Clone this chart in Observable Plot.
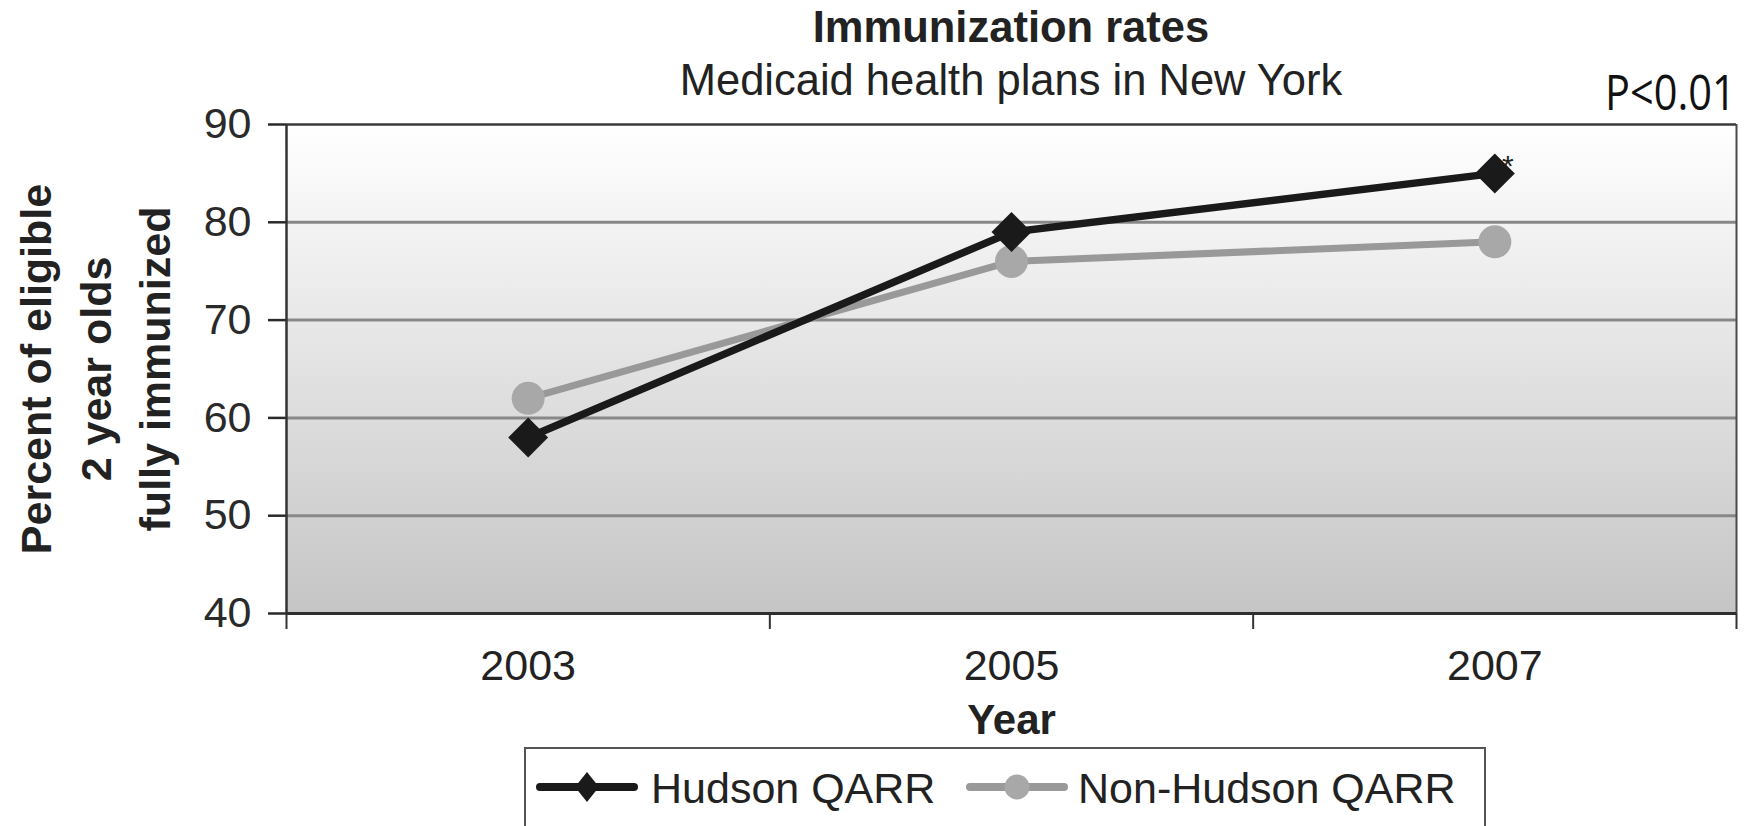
<!DOCTYPE html>
<html>
<head>
<meta charset="utf-8">
<script src="https://cdn.jsdelivr.net/npm/d3@7"></script>
<script src="https://cdn.jsdelivr.net/npm/@observablehq/plot@0.6"></script>
<style>
  html, body { margin: 0; padding: 0; background: #fff; }
  #page { position: relative; width: 1748px; height: 826px; overflow: hidden;
          font-family: "Liberation Sans", Arial, Helvetica, sans-serif; color: #222; }
  .abs { position: absolute; white-space: nowrap; }
  #title { left: 511px; width: 1000px; top: 6px; text-align: center; font-size: 43.5px; line-height: 43px; font-weight: bold; }
  #subtitle { left: 511px; width: 1000px; top: 59px; text-align: center; font-size: 43.5px; line-height: 43px; }
  #pval { left: 1605px; top: 66px; font-family: "Open Sans", sans-serif; font-size: 50px; line-height: 50px;
          transform: scaleX(0.83); transform-origin: 0 0; color: #111; }
  #chart { left: 0; top: 100px; }
  #legend { left: 524px; top: 747px; width: 962px; height: 100px; border: 2px solid #555; box-sizing: border-box; }
  .lg-text { font-size: 43px; line-height: 43px; top: 767px; }
  .lg-sw { top: 767px; }
</style>
</head>
<body>
<div id="page">
  <div id="title" class="abs"></div>
  <div id="subtitle" class="abs"></div>
  <div id="pval" class="abs"></div>
  <div id="chart" class="abs"></div>
  <div id="legend" class="abs"></div>
</div>
<script>
// ---- data ----
const years = [2003, 2005, 2007];
const hudson = [58, 79, 85];
const nonHudson = [62, 76, 78];
const seriesNames = ["Hudson QARR", "Non-Hudson QARR"];
const yTicks = [40, 50, 60, 70, 80, 90];
const annotations = [{year: 2007, value: 85, text: "*"}];
const titleText = "Immunization rates";
const subtitleText = "Medicaid health plans in New York";
const pText = "P<0.01";
const yTitle = ["Percent of eligible", "2 year olds", "fully immunized"];
const xTitle = "Year";

// ---- derived tables ----
const hudRows = years.map((year, i) => ({year, value: hudson[i], series: seriesNames[0]}));
const nonRows = years.map((year, i) => ({year, value: nonHudson[i], series: seriesNames[1]}));
const bounds = [years[0] - 1, ...years.map(y => y + 1)];

const darkColor = "#1a1a1a";
const greyLine = "#999999";
const greyDot = "#a8a8a8";

document.getElementById("title").textContent = titleText;
document.getElementById("subtitle").textContent = subtitleText;
document.getElementById("pval").textContent = pText;

const chart = Plot.plot({
  width: 1748,
  height: 645,
  marginTop: 24,
  marginBottom: 132,
  marginLeft: 286,
  marginRight: 12,
  x: {domain: [bounds[0], bounds[bounds.length - 1]]},
  y: {domain: [yTicks[0], yTicks[yTicks.length - 1]]},
  style: {fontFamily: "'Liberation Sans', Arial, Helvetica, sans-serif", background: "transparent", overflow: "visible", color: "#222"},
  marks: [
    Plot.frame({fill: "url(#bgGrad)", stroke: null}),
    Plot.ruleY(yTicks.slice(1, -1), {stroke: "#888888", strokeWidth: 3}),
    Plot.ruleY([yTicks[yTicks.length - 1]], {stroke: "#3a3a3a", strokeWidth: 2.5}),
    Plot.ruleX([bounds[bounds.length - 1]], {stroke: "#4a4a4a", strokeWidth: 2}),
    Plot.axisY({ticks: yTicks, tickSize: 18, tickPadding: 17, fontSize: 43, color: "#2a2a2a", strokeWidth: 2.5, label: null, tickFormat: d => String(d)}),
    Plot.ruleX([bounds[0]], {stroke: "#333", strokeWidth: 2.5}),
    Plot.axisX({ticks: bounds, tickSize: 16, tickFormat: () => "", color: "#333", strokeWidth: 2, label: null}),
    Plot.axisX({ticks: years, tickSize: 0, tickPadding: 36, tickFormat: d => String(d), fontSize: 43, color: "#222", label: null}),
    Plot.ruleY([yTicks[0]], {stroke: "#2e2e2e", strokeWidth: 3}),
    Plot.line(nonRows, {x: "year", y: "value", stroke: greyLine, strokeWidth: 7}),
    Plot.line(hudRows, {x: "year", y: "value", stroke: darkColor, strokeWidth: 7.5}),
    Plot.dot(nonRows, {x: "year", y: "value", r: 16.5, fill: greyDot, symbol: "circle"}),
    Plot.dot(hudRows, {x: "year", y: "value", r: 18, fill: darkColor, symbol: "diamond2"}),
    Plot.text(annotations, {x: "year", y: "value", text: "text", dx: 13, dy: -7, fontSize: 30, fill: "#222"}),
    Plot.text([yTitle.join("\n")], {text: d => d, frameAnchor: "left", dx: -195, rotate: -90, fontSize: 43, fontWeight: "bold",
      lineHeight: 1.38, textAnchor: "middle", lineAnchor: "middle", fill: "#222"}),
    Plot.text([xTitle], {text: d => d, frameAnchor: "bottom", dy: 107, fontSize: 42, fontWeight: "bold", lineAnchor: "middle", fill: "#222"})
  ]
});

d3.select(chart).insert("defs", ":first-child").html(
  '<linearGradient id="bgGrad" x1="0" y1="0" x2="0" y2="1">' +
  '<stop offset="0" stop-color="#ffffff"/><stop offset="1" stop-color="#c5c5c5"/></linearGradient>'
);
document.getElementById("chart").appendChild(chart);

// ---- legend ----
const page = document.getElementById("page");
const legendItems = [
  {name: seriesNames[0], swLeft: 534, textLeft: 651, stroke: darkColor, fill: darkColor, shape: "diamond"},
  {name: seriesNames[1], swLeft: 964, textLeft: 1078, stroke: greyLine, fill: greyDot, shape: "circle"}
];
legendItems.forEach(it => {
  const sw = d3.select(page).append("svg").attr("class", "abs lg-sw")
    .style("left", it.swLeft + "px").attr("width", 106).attr("height", 40);
  sw.append("line").attr("x1", 6).attr("x2", 100).attr("y1", 20).attr("y2", 20)
    .attr("stroke", it.stroke).attr("stroke-width", 8).attr("stroke-linecap", "round");
  if (it.shape === "diamond") {
    sw.append("path").attr("d", "M53,5 L65,20 L53,35 L41,20 Z").attr("fill", it.fill);
  } else {
    sw.append("circle").attr("cx", 53).attr("cy", 20).attr("r", 12.5).attr("fill", it.fill);
  }
  d3.select(page).append("div").attr("class", "abs lg-text").style("left", it.textLeft + "px").text(it.name);
});
</script>
</body>
</html>
